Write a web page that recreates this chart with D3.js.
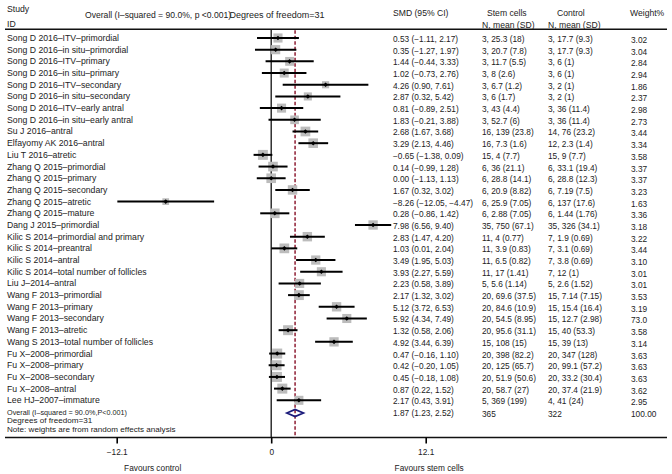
<!DOCTYPE html>
<html>
<head>
<meta charset="utf-8">
<script src="https://cdn.jsdelivr.net/npm/d3@7"></script>
<style>
  html, body { margin: 0; padding: 0; background: #fff; }
  svg { display: block; }
  text { font-family: "Liberation Sans", Arial, sans-serif; fill: #222; }
</style>
</head>
<body>
<svg id="chart" width="672" height="474"></svg>
<script>
// ---------------- data ----------------
const studies = [
  "Song D 2016–ITV–primordial",
  "Song D 2016–in situ–primordial",
  "Song D 2016–ITV–primary",
  "Song D 2016–in situ–primary",
  "Song D 2016–ITV–secondary",
  "Song D 2016–in situ–secondary",
  "Song D 2016–ITV–early antral",
  "Song D 2016–in situ–early antral",
  "Su J 2016–antral",
  "Elfayomy AK 2016–antral",
  "Liu T 2016–atretic",
  "Zhang Q 2015–primordial",
  "Zhang Q 2015–primary",
  "Zhang Q 2015–secondary",
  "Zhang Q 2015–atretic",
  "Zhang Q 2015–mature",
  "Dang J 2015–primordial",
  "Kilic S 2014–primordial and primary",
  "Kilic S 2014–preantral",
  "Kilic S 2014–antral",
  "Kilic S 2014–total number of follicles",
  "Liu J–2014–antral",
  "Wang F 2013–primordial",
  "Wang F 2013–primary",
  "Wang F 2013–secondary",
  "Wang F 2013–atretic",
  "Wang S 2013–total number of follicles",
  "Fu X–2008–primordial",
  "Fu X–2008–primary",
  "Fu X–2008–secondary",
  "Fu X–2008–antral",
  "Lee HJ–2007–immature"
];
const smd   = [0.53, 0.35, 1.44, 1.02, 4.26, 2.87, 0.81, 1.83, 2.68, 3.29, -0.65, 0.14, 0.00, 1.67, -8.26, 0.28, 7.98, 2.83, 1.03, 3.49, 3.93, 2.23, 2.17, 5.12, 5.92, 1.32, 4.92, 0.47, 0.42, 0.45, 0.87, 2.17];
const ciLow = [-1.11, -1.27, -0.44, -0.73, 0.90, 0.32, -0.89, -0.21, 1.67, 2.13, -1.38, -0.99, -1.13, 0.32, -12.05, -0.86, 6.56, 1.47, 0.01, 1.95, 2.27, 0.58, 1.32, 3.72, 4.34, 0.58, 3.44, -0.16, -0.20, -0.18, 0.22, 0.43];
const ciHigh= [2.17, 1.97, 3.33, 2.76, 7.61, 5.42, 2.51, 3.88, 3.68, 4.46, 0.09, 1.28, 1.13, 3.02, -4.47, 1.42, 9.40, 4.20, 2.04, 5.03, 5.59, 3.89, 3.02, 6.53, 7.49, 2.06, 6.39, 1.10, 1.05, 1.08, 1.52, 3.91];
const stemCells = ["3, 25.3 (18)", "3, 20.7 (7.8)", "3, 11.7 (5.5)", "3, 8 (2.6)", "3, 6.7 (1.2)", "3, 6 (1.7)", "3, 43 (4.4)", "3, 52.7 (6)", "16, 139 (23.8)", "16, 7.3 (1.6)", "15, 4 (7.7)", "6, 36 (21.1)", "6, 28.8 (14.1)", "6, 20.9 (8.82)", "6, 25.9 (7.05)", "6, 2.88 (7.05)", "35, 750 (67.1)", "11, 4 (0.77)", "11, 3.9 (0.83)", "11, 6.5 (0.82)", "11, 17 (1.41)", "5, 5.6 (1.14)", "20, 69.6 (37.5)", "20, 84.6 (10.9)", "20, 54.5 (8.95)", "20, 95.6 (31.1)", "15, 108 (15)", "20, 398 (82.2)", "20, 125 (65.7)", "20, 51.9 (50.6)", "20, 58.7 (27)", "5, 369 (199)"];
const control = ["3, 17.7 (9.3)", "3, 17.7 (9.3)", "3, 6 (1)", "3, 6 (1)", "3, 2 (1)", "3, 2 (1)", "3, 36 (11.4)", "3, 36 (11.4)", "14, 76 (23.2)", "12, 2.3 (1.4)", "15, 9 (7.7)", "6, 33.1 (19.4)", "6, 28.8 (12.3)", "6, 7.19 (7.5)", "6, 137 (17.6)", "6, 1.44 (1.76)", "35, 326 (34.1)", "7, 1.9 (0.69)", "7, 3.1 (0.69)", "7, 3.8 (0.69)", "7, 12 (1)", "5, 2.6 (1.52)", "15, 7.14 (7.15)", "15, 15.4 (16.4)", "15, 12.7 (2.98)", "15, 40 (53.3)", "15, 39 (13)", "20, 347 (128)", "20, 99.1 (57.2)", "20, 33.2 (30.4)", "20, 37.4 (21.9)", "4, 41 (24)"];
// weight labels exactly as printed
const weightLabels = ["3.02", "3.04", "2.84", "2.94", "1.86", "2.37", "2.98", "2.73", "3.44", "3.34", "3.58", "3.37", "3.37", "3.23", "1.63", "3.36", "3.18", "3.22", "3.44", "3.10", "3.01", "3.01", "3.53", "3.19", "73.0", "3.58", "3.14", "3.63", "3.63", "3.63", "3.62", "2.95"];
// weights used for box size (the "73.0" label is drawn with a box of about 3.0)
const weights = [3.02, 3.04, 2.84, 2.94, 1.86, 2.37, 2.98, 2.73, 3.44, 3.34, 3.58, 3.37, 3.37, 3.23, 1.63, 3.36, 3.18, 3.22, 3.44, 3.10, 3.01, 3.01, 3.53, 3.19, 3.0, 3.58, 3.14, 3.63, 3.63, 3.63, 3.62, 2.95];
const overall = { smd: 1.87, lo: 1.23, hi: 2.52, stem: "365", control: "322", weight: "100.00" };
const axisTicks = [-12.1, 0, 12.1];

// ---------------- drawing ----------------
const svg = d3.select("#chart");
const FS = 8.3;      // numbers / small text
const FL = 8.7;      // study labels
const x = d3.scaleLinear().domain([-12.1, 12.1]).range([116.7, 425.7]);
const y = d3.scaleLinear().domain([0, 31]).range([38.0, 400.3]);
const box = d3.scaleSqrt().domain([0, 3.63]).range([0, 10]);
const fmt = v => (v < 0 ? "−" : "") + Math.abs(v).toFixed(2);
const topY = 29.3, axisY = 437.5;

// Column positions
const colLabel = 7, colSMD = 393, colStem = 482, colCtrl = 548, colW = 631;

// header
const hdr = svg.append("g").attr("font-size", FL).attr("dominant-baseline", "central");
hdr.append("text").attr("x", colLabel).attr("y", 8.5).text("Study");
hdr.append("text").attr("x", colLabel).attr("y", 24).text("ID");
hdr.append("text").attr("x", 85).attr("y", 15).attr("font-size", 8.6).text("Overall  (I–squared = 90.0%, p <0.001)");
hdr.append("text").attr("x", 229.5).attr("y", 15).attr("font-size", 8.4)
  .attr("textLength", 95).attr("lengthAdjust", "spacingAndGlyphs").text("Degrees of freedom=31");
hdr.append("text").attr("x", colSMD).attr("y", 13).attr("font-size", FS + 0.3).text("SMD (95% CI)");
hdr.append("text").attr("x", colStem + 5).attr("y", 13).attr("font-size", FS + 0.3).text("Stem cells");
hdr.append("text").attr("x", colStem).attr("y", 25).attr("font-size", FS + 0.3).text("N, mean (SD)");
hdr.append("text").attr("x", colCtrl + 9).attr("y", 13).attr("font-size", FS + 0.3).text("Control");
hdr.append("text").attr("x", colCtrl).attr("y", 25).attr("font-size", FS + 0.3).text("N, mean (SD)");
hdr.append("text").attr("x", colW - 1).attr("y", 13).attr("font-size", FS + 0.3).text("Weight%");

// top rule and bottom axis rule
svg.append("line").attr("x1", 5).attr("x2", 667).attr("y1", topY).attr("y2", topY).attr("stroke", "#111").attr("stroke-width", 1.6);
svg.append("line").attr("x1", 5).attr("x2", 667).attr("y1", axisY).attr("y2", axisY).attr("stroke", "#111").attr("stroke-width", 1.6);

// zero line
svg.append("line").attr("x1", x(0)).attr("x2", x(0)).attr("y1", topY).attr("y2", axisY).attr("stroke", "#111").attr("stroke-width", 1.3);
// overall dashed line
svg.append("line").attr("x1", x(overall.smd)).attr("x2", x(overall.smd)).attr("y1", topY + 1).attr("y2", axisY)
  .attr("stroke", "#8e1d33").attr("stroke-width", 1.5).attr("stroke-dasharray", "3.5,2");

const idx = d3.range(studies.length);
const rows = svg.append("g");
// boxes
rows.selectAll("rect.wbox").data(idx).join("rect").attr("class", "wbox")
  .attr("x", i => x(smd[i]) - box(weights[i]) / 2)
  .attr("y", i => y(i) - box(weights[i]) / 2)
  .attr("width", i => box(weights[i]))
  .attr("height", i => box(weights[i]))
  .attr("fill", "#bcbcbc");
// CI lines
rows.selectAll("line.ci").data(idx).join("line").attr("class", "ci")
  .attr("x1", i => x(ciLow[i])).attr("x2", i => x(ciHigh[i]))
  .attr("y1", i => y(i)).attr("y2", i => y(i))
  .attr("stroke", "#000").attr("stroke-width", 2);
// point markers (small diamonds)
rows.selectAll("path.pt").data(idx).join("path").attr("class", "pt")
  .attr("d", i => { const cx = x(smd[i]), cy = y(i), r = 2.3; return `M${cx - r},${cy}L${cx},${cy - r}L${cx + r},${cy}L${cx},${cy + r}Z`; })
  .attr("fill", "#000");

// text columns
const tg = svg.append("g").attr("font-size", FS).attr("dominant-baseline", "central");
tg.selectAll("text.lab").data(idx).join("text").attr("class", "lab").attr("x", colLabel).attr("y", i => y(i)).attr("font-size", FL).text(i => studies[i]);
tg.selectAll("text.smd").data(idx).join("text").attr("class", "smd").attr("x", colSMD).attr("y", i => y(i) + 1)
  .text(i => `${fmt(smd[i])} (${fmt(ciLow[i])}, ${fmt(ciHigh[i])})`);
tg.selectAll("text.stem").data(idx).join("text").attr("class", "stem").attr("x", colStem).attr("y", i => y(i) + 1).text(i => stemCells[i]);
tg.selectAll("text.ctrl").data(idx).join("text").attr("class", "ctrl").attr("x", colCtrl).attr("y", i => y(i) + 1).text(i => control[i]);
tg.selectAll("text.w").data(idx).join("text").attr("class", "w").attr("x", colW).attr("y", i => y(i) + 2).text(i => weightLabels[i]);

// overall row
const oy = y(32) + 1;
svg.append("path")
  .attr("d", `M${x(overall.lo)},${oy}L${x(overall.smd)},${oy - 3.6}L${x(overall.hi)},${oy}L${x(overall.smd)},${oy + 3.6}Z`)
  .attr("fill", "none").attr("stroke", "#1a1a7a").attr("stroke-width", 1.8);
const ft = svg.append("g").attr("font-size", 8.1).attr("dominant-baseline", "central");
ft.append("text").attr("x", colLabel).attr("y", oy - 0.5)
  .attr("textLength", 120).attr("lengthAdjust", "spacingAndGlyphs").text("Overall (I–squared = 90.0%,P<0.001)");
ft.append("text").attr("x", colLabel).attr("y", oy + 8).text("Degrees of freedom=31");
ft.append("text").attr("x", colLabel).attr("y", oy + 17).text("Note: weights are from random effects analysis");
tg.append("text").attr("x", colSMD).attr("y", oy).text(`${fmt(overall.smd)} (${fmt(overall.lo)}, ${fmt(overall.hi)})`);
tg.append("text").attr("x", colStem).attr("y", oy + 1).text(overall.stem);
tg.append("text").attr("x", colCtrl).attr("y", oy + 1).text(overall.control);
tg.append("text").attr("x", colW).attr("y", oy + 1).text(overall.weight);

// axis
const axis = d3.axisBottom(x).tickValues(axisTicks).tickSize(6).tickPadding(6)
  .tickFormat(d => d === 0 ? "0" : (d < 0 ? "−" : "") + Math.abs(d).toFixed(1));
const ag = svg.append("g").attr("transform", `translate(0,${axisY})`).call(axis);
ag.select(".domain").remove();
ag.selectAll(".tick line").attr("stroke", "#000").attr("stroke-width", 1.6);
ag.selectAll(".tick text").attr("font-size", FS).attr("fill", "#222").attr("font-family", "Liberation Sans, Arial, sans-serif");

svg.append("text").attr("x", x(-12.1) + 36).attr("y", 468).attr("text-anchor", "middle").attr("dominant-baseline", "central").attr("font-size", FS).text("Favours control");
svg.append("text").attr("x", x(12.1) + 3.5).attr("y", 468).attr("text-anchor", "middle").attr("dominant-baseline", "central").attr("font-size", FS).text("Favours stem cells");
</script>
</body>
</html>
